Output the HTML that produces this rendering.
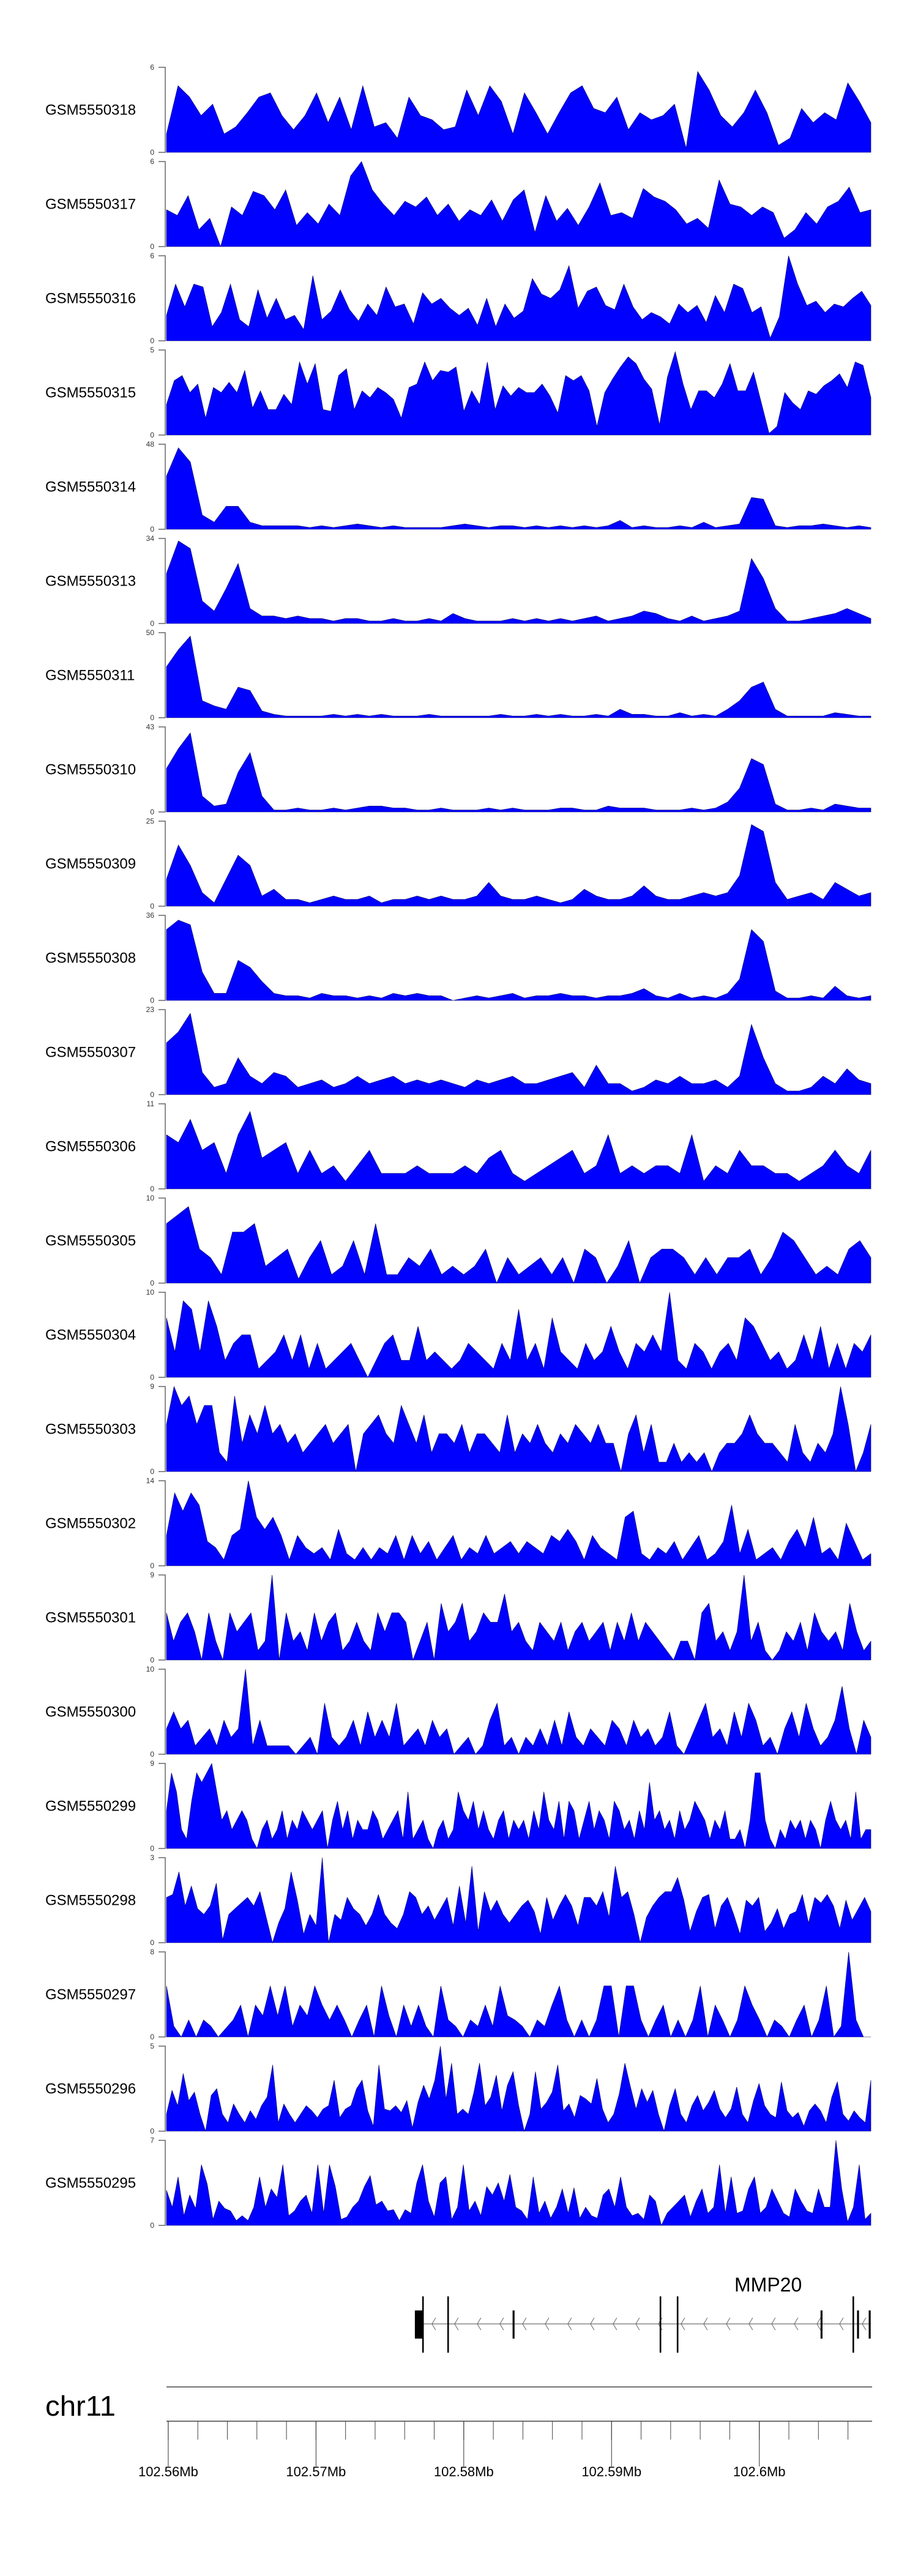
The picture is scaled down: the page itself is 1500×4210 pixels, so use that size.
<!DOCTYPE html>
<html>
<head>
<meta charset="utf-8">
<style>
  html,body{margin:0;padding:0;background:#fff;}
  svg{display:block;}
  text{font-family:"Liberation Sans",sans-serif;}
</style>
</head>
<body>
<svg id="fig" width="1500" height="4210" viewBox="0 0 1500 4210" xmlns="http://www.w3.org/2000/svg">
  <g id="tracks"></g>
  <g id="gene"></g>
  <g id="ruler"></g>
</svg>
<script>
const sampleNames = ["GSM5550318","GSM5550317","GSM5550316","GSM5550315","GSM5550314","GSM5550313","GSM5550311","GSM5550310","GSM5550309","GSM5550308","GSM5550307","GSM5550306","GSM5550305","GSM5550304","GSM5550303","GSM5550302","GSM5550301","GSM5550300","GSM5550299","GSM5550298","GSM5550297","GSM5550296","GSM5550295"];
const yMax = [6,6,6,5,48,34,50,43,25,36,23,11,10,10,9,14,9,10,9,3,8,5,7];

const s318 = [1.3,4.7,3.9,2.6,3.4,1.3,1.8,2.8,3.9,4.2,2.6,1.6,2.6,4.2,2.1,3.9,1.6,4.7,1.8,2.1,1.0,3.9,2.6,2.3,1.6,1.8,4.4,2.6,4.7,3.6,1.3,4.2,2.8,1.3,2.8,4.2,4.7,3.1,2.8,3.9,1.6,2.8,2.3,2.6,3.4,0.3,5.7,4.4,2.6,1.8,2.8,4.4,2.8,0.5,1.0,3.1,2.1,2.8,2.3,4.9,3.6,2.1];
const s317 = [2.6,2.2,3.6,1.2,2.0,0.0,2.8,2.2,3.9,3.6,2.6,4.0,1.5,2.4,1.6,3.0,2.2,5.0,6.0,4.0,3.0,2.2,3.2,2.8,3.5,2.2,3.0,1.8,2.6,2.2,3.3,1.8,3.3,4.0,1.0,3.6,1.8,2.7,1.5,2.8,4.5,2.2,2.4,2.0,4.1,3.5,3.2,2.6,1.6,2.0,1.3,4.7,3.0,2.8,2.2,2.8,2.4,0.6,1.2,2.4,1.6,2.8,3.2,4.2,2.4,2.6];
const s316 = [1.8,4.0,2.4,4.0,3.8,1.0,2.0,4.0,1.5,1.0,3.6,1.6,3.0,1.5,1.8,0.8,4.6,1.5,2.1,3.6,2.2,1.4,2.6,1.8,3.8,2.4,2.6,1.2,3.4,2.6,3.0,2.3,1.8,2.3,1.1,3.0,1.0,2.6,1.6,2.1,4.4,3.3,3.0,3.6,5.3,2.3,3.5,3.8,2.5,2.2,4.0,2.4,1.5,2.0,1.7,1.2,2.6,2.0,2.5,1.3,3.2,2.0,4.0,3.7,2.0,2.4,0.2,1.7,6.0,4.0,2.5,2.8,2.0,2.6,2.4,3.0,3.5,2.5];
const s315 = [1.8,3.2,3.5,2.5,3.0,1.0,2.8,2.5,3.1,2.5,3.8,1.6,2.6,1.5,1.5,2.4,1.8,4.3,3.0,4.2,1.5,1.4,3.5,3.9,1.5,2.6,2.2,2.8,2.5,2.1,1.0,2.8,3.0,4.3,3.2,3.8,3.7,4.0,1.4,2.6,1.8,4.3,1.5,2.9,2.3,2.8,2.5,2.5,3.0,2.3,1.3,3.5,3.2,3.5,2.6,0.5,2.5,3.3,4.0,4.6,4.2,3.3,2.7,0.6,3.4,4.9,3.0,1.5,2.6,2.6,2.2,3.0,4.2,2.6,2.6,3.7,1.9,0.1,0.5,2.5,1.9,1.5,2.6,2.4,2.9,3.2,3.6,2.8,4.3,4.1,2.2];
const s314 = [30,46,38,8,4,13,13,4,2,2,2,2,1,2,1,2,3,2,1,2,1,1,1,1,2,3,2,1,2,2,1,2,1,2,1,2,1,2,5,1,2,1,1,2,1,4,1,2,3,18,17,2,1,2,2,3,2,1,2,1];
const s313 = [20,33,30,9,5,14,24,6,3,3,2,3,2,2,1,2,2,1,1,2,1,1,2,1,4,2,1,1,1,2,1,2,1,2,1,2,3,1,2,3,5,4,2,1,3,1,2,3,5,26,18,6,1,1,2,3,4,6,4,2];
const s311 = [30,40,48,10,7,5,18,16,4,2,1,1,1,1,2,1,2,1,2,1,1,1,2,1,1,1,1,1,2,1,1,2,1,2,1,1,2,1,5,2,2,1,1,3,1,2,1,5,10,18,21,5,1,1,1,1,3,2,1,1];
const s310 = [22,32,40,8,3,4,20,30,8,1,1,2,1,1,2,1,2,3,3,2,2,1,1,2,1,1,1,2,1,2,1,1,1,2,2,1,1,3,2,2,2,1,1,1,2,1,2,5,12,27,24,4,1,1,2,1,4,3,2,2];
const s309 = [8,18,12,4,1,8,15,12,3,5,2,2,1,2,3,2,2,3,1,2,2,3,2,3,2,2,3,7,3,2,2,3,2,1,2,5,3,2,2,3,6,3,2,2,3,4,3,4,9,24,22,7,2,3,4,2,7,5,3,4];
const s308 = [30,34,32,12,3,3,17,14,8,3,2,2,1,3,2,2,1,2,1,3,2,3,2,2,0,1,2,1,2,3,1,2,2,3,2,2,1,2,2,3,5,2,1,3,1,2,1,3,9,30,25,4,1,1,2,1,6,2,1,2];
const s307 = [14,17,22,6,2,3,10,5,3,6,5,2,3,4,2,3,5,3,4,5,3,4,3,4,3,2,4,3,4,5,3,3,4,5,6,2,8,3,3,1,2,4,3,5,3,3,4,2,5,19,10,3,1,1,2,5,3,7,4,3];
const s306 = [7,6,9,5,6,2,7,10,4,5,6,2,5,2,3,1,3,5,2,2,2,3,2,2,2,3,2,4,5,2,1,2,3,4,5,2,3,7,2,3,2,3,3,2,7,1,3,2,5,3,3,2,2,1,2,3,5,3,2,5];
const s305 = [7,8,9,4,3,1,6,6,7,2,3,4,0.5,3,5,1,2,5,1,7,1,1,3,2,4,1,2,1,2,4,0,3,1,2,3,1,3,0,4,3,0,2,5,0,3,4,4,3,1,3,1,3,3,4,1,3,6,5,3,1,2,1,4,5,3];
const s304 = [7,3,9,8,3,9,6,2,4,5,5,1,2,3,5,2,5,1,4,1,2,3,4,2,0,2,4,5,2,2,6,2,3,2,1,2,4,3,2,1,4,2,8,2,4,1,7,3,2,1,4,2,3,6,3,1,4,3,5,3,10,2,1,4,3,1,3,4,2,7,6,4,2,3,1,2,5,2,6,1,4,1,4,3,5];
const s303 = [5,9,7,8,5,7,7,2,1,8,3,6,4,7,4,5,3,4,2,3,4,5,3,4,5,0,4,5,6,4,3,7,5,3,6,2,4,4,3,5,2,4,4,3,2,6,2,4,3,5,3,2,4,3,5,4,3,5,3,3,0,4,6,2,5,1,1,3,1,2,1,2,0,2,3,3,4,6,4,3,3,2,1,5,2,1,3,2,4,9,5,0,2,5];
const s302 = [5,12,9,12,10,4,3,1,5,6,14,8,6,8,5,1,5,3,2,3,1,6,2,1,3,1,3,2,5,1,5,2,4,1,3,5,1,3,2,5,2,3,4,2,4,3,2,5,4,6,4,1,5,3,2,1,8,9,2,1,3,2,4,1,3,5,1,2,4,10,2,6,1,2,3,1,4,6,3,8,2,3,1,7,4,1,2];
const s301 = [5,2,4,5,3,0,5,2,0,5,3,4,5,1,2,9,0,5,2,3,1,5,2,4,5,1,2,4,2,1,5,3,5,5,4,0,2,4,0,6,3,4,6,2,3,5,4,4,7,3,4,2,1,4,3,2,4,1,3,4,2,3,4,1,4,2,5,2,4,3,2,1,0,2,2,0,5,6,2,3,1,3,9,2,4,1,0,1,3,2,4,1,5,3,2,3,1,6,3,1,2];
const s300 = [3,5,3,4,1,2,3,1,4,2,3,10,1,4,1,1,1,1,0,1,2,0,6,2,1,2,4,1,5,2,4,2,6,1,2,3,1,4,2,3,0,1,2,0,1,4,6,1,2,0,2,1,3,1,4,1,5,2,1,3,2,1,4,3,1,4,2,3,1,2,5,1,0,2,4,6,2,3,1,5,2,6,4,1,2,0,3,5,2,6,3,1,2,4,8,3,0,4,2];
const s299 = [4,8,6,2,1,5,8,7,8,9,6,3,4,2,3,4,3,1,0,2,3,1,2,4,1,3,2,4,3,2,3,4,0,3,5,2,4,1,3,2,2,4,3,1,2,3,4,1,6,1,2,3,1,0,2,3,1,2,6,4,3,5,2,4,2,1,3,4,1,3,2,3,1,4,2,6,3,2,5,1,5,4,1,3,5,2,4,3,1,5,4,2,3,1,4,2,7,3,4,2,3,1,4,2,3,5,4,3,1,3,2,4,1,1,2,0,3,8,8,3,1,0,2,1,3,2,3,1,3,2,0,3,5,3,2,3,1,6,1,2,2];
const s298 = [1.6,1.7,2.5,1.3,2.0,1.2,1.0,1.3,2.1,0.1,1.0,1.2,1.4,1.6,1.3,1.8,0.9,0.0,0.7,1.2,2.5,1.5,0.3,1.0,0.6,3.0,0.0,1.0,0.8,1.6,1.2,1.0,0.6,1.0,1.7,1.0,0.7,0.5,1.0,1.8,1.6,1.0,1.3,0.8,1.2,1.6,0.6,2.0,0.7,2.7,0.4,1.8,1.1,1.5,1.0,0.7,1.0,1.3,1.5,1.1,0.3,1.6,0.8,1.3,1.7,1.3,0.6,1.6,1.6,1.3,1.8,0.9,2.7,1.6,1.8,1.0,0.0,0.9,1.3,1.6,1.8,1.8,2.3,1.5,0.4,1.1,1.6,1.7,0.5,1.3,1.6,1.0,0.3,1.5,1.3,1.6,0.4,0.7,1.2,0.5,1.0,1.1,1.7,0.7,1.6,1.4,1.7,1.3,0.5,1.5,0.8,1.2,1.6,1.1];
const s297 = [4.8,1,0,1.6,0,1.6,1,0,0.8,1.6,3,0,3,2,4.8,2,4.8,1,3,2,4.8,3,1.6,3,1.6,0,1.6,3,0,4.8,2,0,3,1,3,1,0,4.8,1.6,1,0,1.6,1,3,1,4.8,2,1.6,1,0,1.6,1,3,4.8,1.6,0,1.6,0,1.6,4.8,4.8,0,4.8,4.8,1.6,0,1.6,3,0,1.6,0,1.6,4.8,0,3,1.6,0,1.6,4.8,3,1.6,0,1.6,1,0,1.6,3,0,1.6,4.8,0,1,8,1.6,0,0];
const s296 = [1,2.4,1.5,3.4,1.8,2.3,1,0,2.1,2.5,1,0.5,1.6,1,0.5,1.2,0.7,1.5,2.0,3.9,0.5,1.6,1,0.5,1,1.5,1.2,0.8,1.3,1.5,3.0,0.8,1.3,1.5,2.5,3.0,1.2,0.3,3.9,1.3,1.2,1.5,1.1,1.8,0.2,1.7,2.7,1.9,3.0,5.0,1.9,4.0,1.0,1.3,1.0,2.3,4.0,1.5,2.0,3.3,1.2,2.7,3.5,1.5,0,1.0,3.5,1.3,1.7,2.3,3.9,1.2,1.6,0.8,2.1,1.9,1.6,3.1,1.3,0.5,1.0,2.2,4.0,2.6,1.3,2.5,1.7,2.4,1.0,0,1.5,2.5,1.0,0.5,1.5,2.1,1.2,1.7,2.4,1.3,0.8,1.3,2.6,1.0,0.5,1.8,2.8,1.5,1.0,0.8,2.9,1.2,0.8,1.1,0.3,1.2,1.6,1.2,0.5,2.0,2.9,1.0,0.6,1.2,0.8,0.5,3.0];
const s295 = [2.9,1.5,4.0,0.8,2.5,1.4,5.0,3.4,0.5,2.0,1.4,1.2,0.4,0.8,0.4,1.5,4.0,1.5,3.0,2.3,5.0,0.8,1.2,2.0,2.5,1.0,5.0,1.0,5.0,3.2,0.5,0.7,1.5,2.0,3.2,4.1,1.7,2.0,1.2,1.3,0.4,1.3,1.0,3.5,5.0,2.0,0.7,3.5,4.0,0.5,1.5,5.0,1.2,2.0,0.8,3.2,2.5,3.5,2.0,4.2,1.5,1.2,0.5,4.0,1.0,2.0,0.6,1.5,3.0,1.0,3.1,0.6,1.5,0.8,0.6,2.5,3.0,1.5,4.0,1.5,0.8,1.0,0.5,2.5,2.0,0,1.0,1.5,2.0,2.5,0.7,2.0,3.0,1.0,1.5,5.0,1.0,4.0,1.0,1.2,3.0,4.0,1.0,1.5,3.0,2.0,1.0,0.7,3.0,2.0,1.2,1.0,3.0,1.5,1.5,7.0,3.0,0.3,1.5,5.0,0.5,1.0];

const seriesValues = [s318,s317,s316,s315,s314,s313,s311,s310,s309,s308,s307,s306,s305,s304,s303,s302,s301,s300,s299,s298,s297,s296,s295];

// genome coordinates (Mb)
const genomeStart = 102.55988;
const genomeEnd = 102.60755;
const majorTicks = [102.56,102.57,102.58,102.59,102.60];
const majorLabels = ["102.56Mb","102.57Mb","102.58Mb","102.59Mb","102.6Mb"];
const minorStep = 0.002;
const exonTall = [102.57724,102.57894,102.59331,102.59447,102.60636];
const exonShort = [102.58337,102.60421,102.60668,102.60747];
const utrStart = [102.57669, 102.57727];
const geneStart = 102.57727, geneEnd = 102.60755;
const geneLabel = "MMP20";
const chromName = "chr11";

const NS = "http://www.w3.org/2000/svg";
const X0 = 272, X1 = 1423;
function xScale(g){ return X0 + (g - genomeStart)/(genomeEnd - genomeStart)*(X1 - X0); }
function mk(tag, attrs, parent){
  const e = document.createElementNS(NS, tag);
  for (const k in attrs) e.setAttribute(k, attrs[k]);
  parent.appendChild(e);
  return e;
}

const tracks = document.getElementById('tracks');
const TOP0 = 110, PITCH = 154, H = 139;
sampleNames.forEach((name, i) => {
  const top = TOP0 + i*PITCH, bot = top + H;
  const g = mk('g', {}, tracks);
  
  
  const lab = mk('text', {x:74, y:top+H/2+8, 'font-size':24, fill:'#000'}, g);
  lab.textContent = name;
  
  
  const ax = mk('path', {d:`M259 ${top}H270V${bot}H259`, fill:'none', stroke:'#666', 'stroke-width':1.5}, g);
  
  
  const tmax = mk('text', {x:252, y:top+4, 'font-size':12, fill:'#333', 'text-anchor':'end'}, g);
  tmax.textContent = String(yMax[i]);
  
  
  const tmin = mk('text', {x:252, y:bot+4, 'font-size':12, fill:'#333', 'text-anchor':'end'}, g);
  tmin.textContent = "0";
  
  
  const vals = seriesValues[i];
  const n = vals.length;
  let d = `M${X0} ${bot}`;
  vals.forEach((v, j) => {
    const x = X0 + j/(n-1)*(X1-X0);
    const y = bot - Math.min(v, yMax[i])/yMax[i]*H;
    d += `L${x.toFixed(1)} ${y.toFixed(1)}`;
  });
  d += `L${X1} ${bot}Z`;
  const area = mk('path', {d:d, fill:'#0000ff', stroke:'#000060', 'stroke-width':0.6}, g);
  
  
});

// gene track
const gene = document.getElementById('gene');
const GY = 3798;
const gl = mk('text', {x:1200, y:3745, 'font-size':32, fill:'#000'}, gene);
gl.textContent = geneLabel;


const gx0 = xScale(geneStart), gx1 = xScale(geneEnd);
const gline = mk('line', {x1:gx0, x2:gx1, y1:GY, y2:GY, stroke:'#888', 'stroke-width':1.5}, gene);


for (let x = gx0 + 14; x < gx1 - 4; x += 37) {
  const c = mk('path', {d:`M${x+6} ${GY-10}L${x} ${GY}L${x+6} ${GY+10}`, fill:'none', stroke:'#666', 'stroke-width':1}, gene);
  
  
}
const utr = mk('rect', {x:xScale(utrStart[0]), y:3776, width:xScale(utrStart[1])-xScale(utrStart[0]), height:46, fill:'#000'}, gene);


exonTall.forEach(g => {
  const e = mk('rect', {x:xScale(g)-1.3, y:3753, width:2.6, height:92, fill:'#000'}, gene);
  
  
});
exonShort.forEach(g => {
  const e = mk('rect', {x:xScale(g)-1.6, y:3776, width:3.2, height:46, fill:'#000'}, gene);
  
  
});

// ruler
const ruler = document.getElementById('ruler');
const ch = mk('text', {x:74, y:3948, 'font-size':46, fill:'#000', textLength:115, lengthAdjust:'spacingAndGlyphs'}, ruler);
ch.textContent = chromName;


const rt = mk('line', {x1:X0, x2:X1+2, y1:3901, y2:3901, stroke:'#444', 'stroke-width':1.5}, ruler);


const rb = mk('line', {x1:X0, x2:X1+2, y1:3957, y2:3957, stroke:'#444', 'stroke-width':1.5}, ruler);


for (let g = majorTicks[0]; g <= genomeEnd; g += minorStep) {
  const x = xScale(g);
  const t = mk('line', {x1:x, x2:x, y1:3957, y2:3987, stroke:'#444', 'stroke-width':1}, ruler);
  
  
}
majorTicks.forEach((g, i) => {
  const x = xScale(g);
  const t = mk('line', {x1:x, x2:x, y1:3957, y2:4031, stroke:'#333', 'stroke-width':1}, ruler);
  
  
  const lb = mk('text', {x:x, y:4047, 'font-size':22, fill:'#000', 'text-anchor':'middle'}, ruler);
  lb.textContent = majorLabels[i];
  
  
});
</script>
</body>
</html>
